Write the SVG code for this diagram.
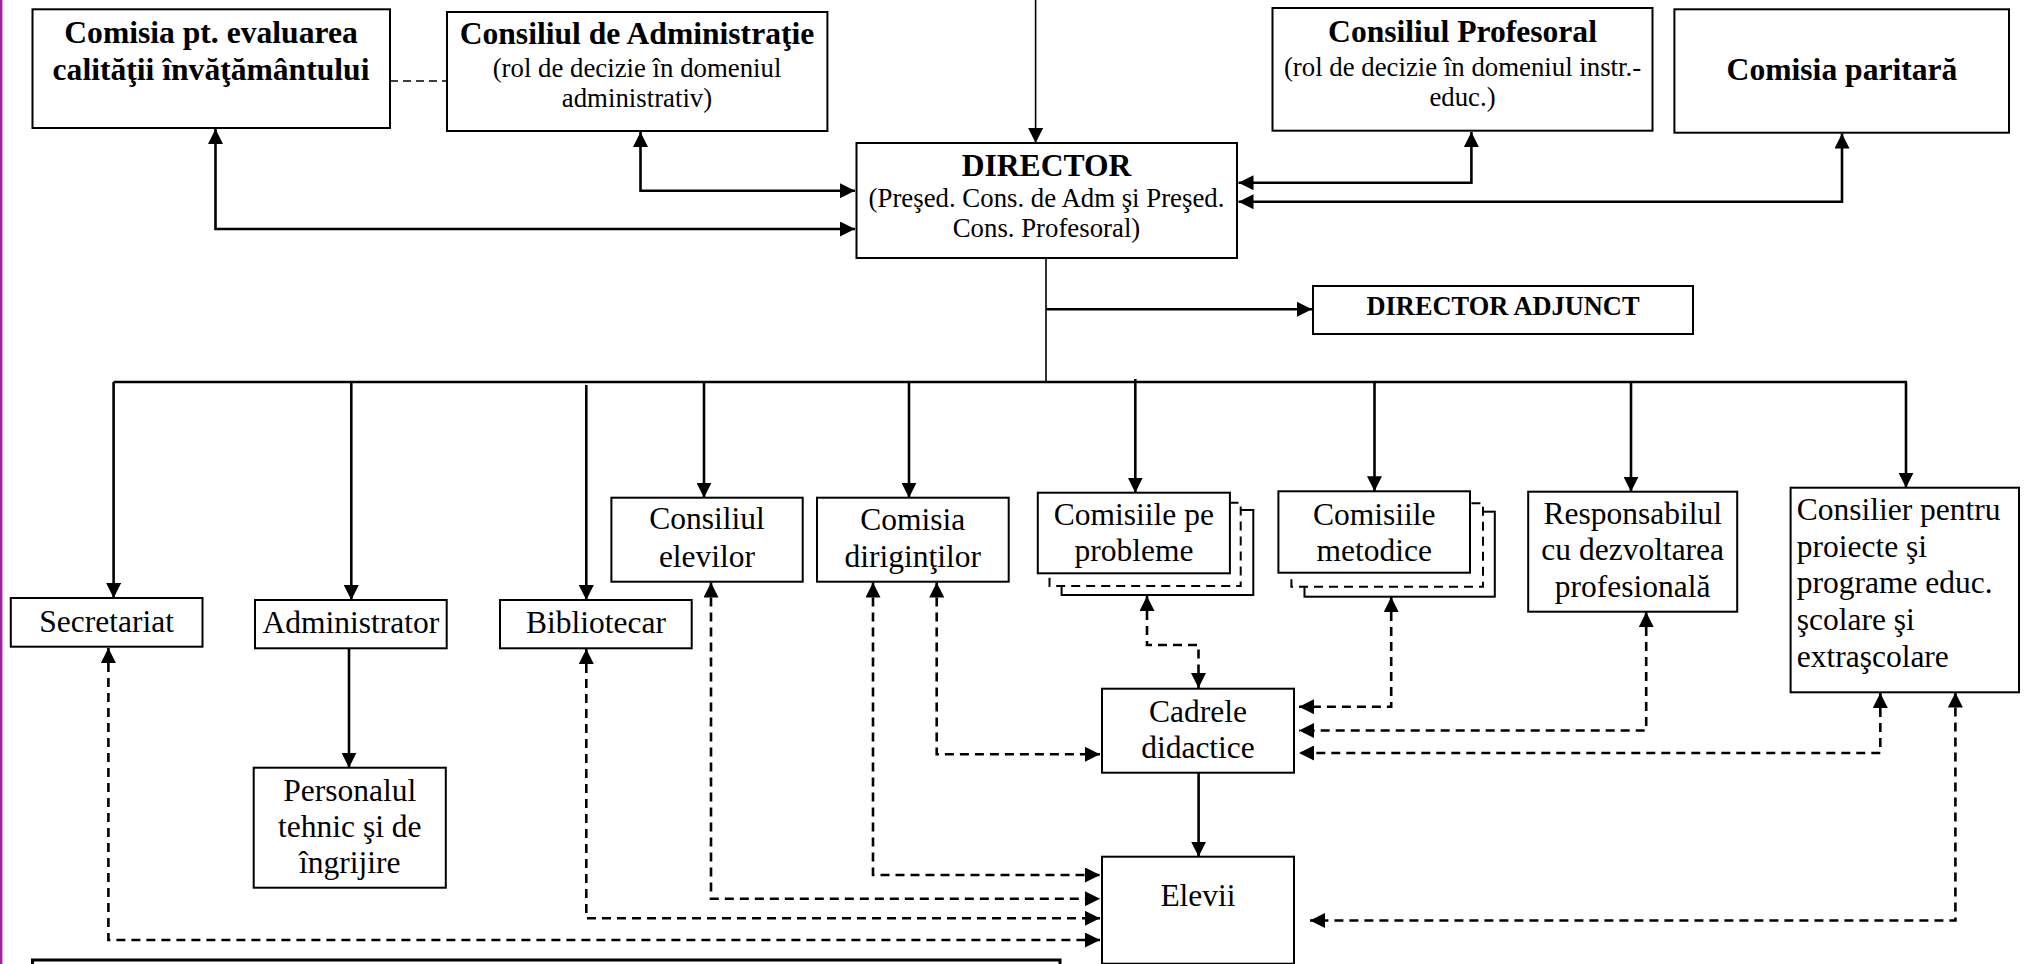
<svg xmlns="http://www.w3.org/2000/svg" width="2031" height="964" viewBox="0 0 2031 964">
<style>
.box{fill:#fff;stroke:#000;stroke-width:2}
.sh{fill:#fff;stroke:#000;stroke-width:2}
.shd{fill:#fff;stroke:#000;stroke-width:2;stroke-dasharray:9 6}
text{font-family:"Liberation Serif","Times New Roman",serif;fill:#000}
.t{font-size:31.5px;text-anchor:middle}
.tl{font-size:31.5px;text-anchor:start}
.b{font-size:31.6px;font-weight:bold;text-anchor:middle}
.s{font-size:26.8px;text-anchor:middle}
.ba{font-size:26.4px;font-weight:bold;text-anchor:middle}
.ln{fill:none;stroke:#000;stroke-width:2.6}
.thin{fill:none;stroke:#000;stroke-width:1.6}
.dl{fill:none;stroke:#000;stroke-width:2.6;stroke-dasharray:9 6}
.dt{fill:none;stroke:#000;stroke-width:1.6;stroke-dasharray:8 5}
</style>
<defs>
<marker id="ah" viewBox="0 0 15 15" refX="15" refY="7.5" markerWidth="15" markerHeight="15" markerUnits="userSpaceOnUse" orient="auto-start-reverse">
<path d="M0,0 L15,7.5 L0,15 z" fill="#000"/>
</marker>
</defs>
<rect x="0" y="0" width="2031" height="964" fill="#fff"/>
<line x1="1.2" y1="0" x2="1.2" y2="964" stroke="#a0229e" stroke-width="2.4"/>

<g id="connectors">
<path class="thin" d="M1035.6,0 V143" marker-end="url(#ah)"/>
<path class="dt" d="M390,81 H447"/>
<path class="ln" d="M215.5,129 V229 H855" marker-start="url(#ah)" marker-end="url(#ah)"/>
<path class="ln" d="M640.5,132 V190.7 H855" marker-start="url(#ah)" marker-end="url(#ah)"/>
<path class="ln" d="M1471.4,132 V182.7 H1238.5" marker-start="url(#ah)" marker-end="url(#ah)"/>
<path class="ln" d="M1842,133.5 V201.7 H1238.5" marker-start="url(#ah)" marker-end="url(#ah)"/>
<path class="thin" d="M1046,258 V383"/>
<path class="ln" d="M1046,309.3 H1312" marker-end="url(#ah)"/>
<path class="ln" d="M113.6,382 H1907"/>
<path class="ln" d="M113.6,382 V598" marker-end="url(#ah)"/>
<path class="ln" d="M351.3,382 V600" marker-end="url(#ah)"/>
<path class="ln" d="M586.3,385 V600" marker-end="url(#ah)"/>
<path class="ln" d="M704,382 V497.7" marker-end="url(#ah)"/>
<path class="ln" d="M909,382 V497.7" marker-end="url(#ah)"/>
<path class="ln" d="M1135.3,379 V492.7" marker-end="url(#ah)"/>
<path class="ln" d="M1374.5,382 V491.3" marker-end="url(#ah)"/>
<path class="ln" d="M1631,382 V491.7" marker-end="url(#ah)"/>
<path class="ln" d="M1906,382 V487.7" marker-end="url(#ah)"/>
<path class="ln" d="M349,648.5 V767.7" marker-end="url(#ah)"/>
<path class="ln" d="M1198.6,772.7 V856.7" marker-end="url(#ah)"/>
<path class="dl" d="M108.4,648 V940 H1100" marker-start="url(#ah)" marker-end="url(#ah)"/>
<path class="dl" d="M586.3,649 V918.3 H1100" marker-start="url(#ah)" marker-end="url(#ah)"/>
<path class="dl" d="M711,582.5 V898.7 H1100" marker-start="url(#ah)" marker-end="url(#ah)"/>
<path class="dl" d="M873,582.5 V875 H1100" marker-start="url(#ah)" marker-end="url(#ah)"/>
<path class="dl" d="M936.7,582.5 V754.3 H1100" marker-start="url(#ah)" marker-end="url(#ah)"/>
<path class="dl" d="M1147,596 V645 H1198.5 V688" marker-start="url(#ah)" marker-end="url(#ah)"/>
<path class="dl" d="M1391.2,597 V706.7 H1299" marker-start="url(#ah)" marker-end="url(#ah)"/>
<path class="dl" d="M1646.2,612 V730.5 H1299" marker-start="url(#ah)" marker-end="url(#ah)"/>
<path class="dl" d="M1880.3,693 V753 H1299" marker-start="url(#ah)" marker-end="url(#ah)"/>
<path class="dl" d="M1955.4,692.5 V920.5 H1310" marker-start="url(#ah)" marker-end="url(#ah)"/>
</g>

<g id="comisia-evaluare">
<rect class="box" x="32.5" y="9.3" width="357.5" height="118.7"/>
<text class="b" x="211" y="43.3">Comisia pt. evaluarea</text>
<text class="b" x="211" y="80">calităţii învăţământului</text>
</g>

<g id="consiliul-administratie">
<rect class="box" x="447" y="12" width="380.4" height="119"/>
<text class="b" x="637" y="44">Consiliul de Administraţie</text>
<text class="s" x="637" y="77.3">(rol de decizie în domeniul</text>
<text class="s" x="637" y="107.3">administrativ)</text>
</g>

<g id="director">
<rect class="box" x="856.5" y="143" width="380.5" height="115"/>
<text class="b" x="1046.5" y="176">DIRECTOR</text>
<text class="s" x="1046.5" y="207.3">(Preşed. Cons. de Adm şi Preşed.</text>
<text class="s" x="1046.5" y="237.3">Cons. Profesoral)</text>
</g>

<g id="consiliul-profesoral">
<rect class="box" x="1272.5" y="8" width="380" height="122.7"/>
<text class="b" x="1462.5" y="41.7">Consiliul Profesoral</text>
<text class="s" x="1462.5" y="76">(rol de decizie în domeniul instr.-</text>
<text class="s" x="1462.5" y="106">educ.)</text>
</g>

<g id="comisia-paritara">
<rect class="box" x="1674.4" y="9.3" width="334.6" height="123.4"/>
<text class="b" x="1842" y="80">Comisia paritară</text>
</g>

<g id="director-adjunct">
<rect class="box" x="1313" y="286" width="380" height="48"/>
<text class="ba" x="1503" y="315">DIRECTOR ADJUNCT</text>
</g>

<g id="secretariat">
<rect class="box" x="10.8" y="598" width="191.7" height="48.7"/>
<text class="t" x="106.6" y="631.7">Secretariat</text>
</g>

<g id="administrator">
<rect class="box" x="255" y="600" width="191.7" height="48.3"/>
<text class="t" x="350.8" y="633.3">Administrator</text>
</g>

<g id="personalul">
<rect class="box" x="253.7" y="767.7" width="192.1" height="120"/>
<text class="t" x="349.8" y="800.7">Personalul</text>
<text class="t" x="349.8" y="837">tehnic şi de</text>
<text class="t" x="349.8" y="873">îngrijire</text>
</g>

<g id="bibliotecar">
<rect class="box" x="500" y="600" width="191.7" height="48.3"/>
<text class="t" x="596" y="633.3">Bibliotecar</text>
</g>

<g id="consiliul-elevilor">
<rect class="box" x="611.4" y="497.7" width="191.3" height="84"/>
<text class="t" x="707" y="529.3">Consiliul</text>
<text class="t" x="707" y="566.7">elevilor</text>
</g>

<g id="comisia-dirigintilor">
<rect class="box" x="817" y="497.7" width="191.7" height="84"/>
<text class="t" x="912.8" y="530">Comisia</text>
<text class="t" x="912.8" y="566.7">diriginţilor</text>
</g>

<g id="comisiile-probleme">
<rect class="sh" x="1061.6" y="510" width="191.7" height="85"/>
<rect class="shd" x="1049.5" y="502.7" width="191.2" height="83.3"/>
<rect class="box" x="1037.8" y="492.7" width="192.1" height="80.6"/>
<text class="t" x="1133.9" y="525">Comisiile pe</text>
<text class="t" x="1133.9" y="560.7">probleme</text>
</g>

<g id="comisiile-metodice">
<rect class="sh" x="1304.5" y="511.7" width="190.3" height="85"/>
<rect class="shd" x="1291.4" y="503.3" width="191.6" height="83.4"/>
<rect class="box" x="1278.4" y="491.3" width="191.6" height="81.4"/>
<text class="t" x="1374.2" y="525">Comisiile</text>
<text class="t" x="1374.2" y="560.7">metodice</text>
</g>

<g id="responsabilul">
<rect class="box" x="1528.2" y="491.7" width="209" height="120"/>
<text class="t" x="1632.7" y="524">Responsabilul</text>
<text class="t" x="1632.7" y="560">cu dezvoltarea</text>
<text class="t" x="1632.7" y="596.5">profesională</text>
</g>

<g id="consilier">
<rect class="box" x="1790.6" y="487.7" width="228.4" height="204.6"/>
<text class="tl" x="1796.7" y="520">Consilier pentru</text>
<text class="tl" x="1796.7" y="557">proiecte şi</text>
<text class="tl" x="1796.7" y="593.3">programe educ.</text>
<text class="tl" x="1796.7" y="630">şcolare şi</text>
<text class="tl" x="1796.7" y="666.5">extraşcolare</text>
</g>

<g id="cadrele">
<rect class="box" x="1102" y="688.7" width="192" height="84"/>
<text class="t" x="1198" y="721.7">Cadrele</text>
<text class="t" x="1198" y="757.7">didactice</text>
</g>

<g id="elevii">
<rect class="box" x="1102" y="856.7" width="192" height="107"/>
<text class="t" x="1198" y="906">Elevii</text>
</g>

<g id="bottom-box">
<rect x="32.5" y="960" width="1027.5" height="30" fill="none" stroke="#000" stroke-width="3"/>
</g>
</svg>
